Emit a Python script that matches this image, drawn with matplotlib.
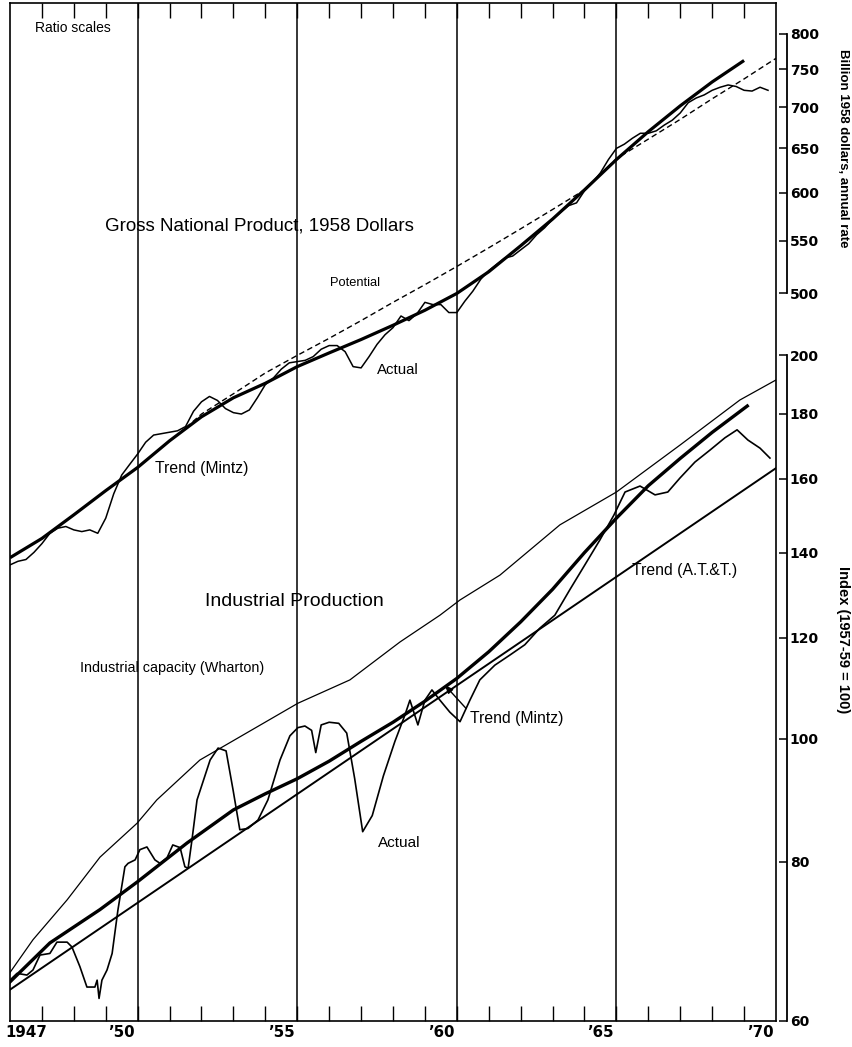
import matplotlib
matplotlib.use("Agg")
import matplotlib.pyplot as plt
from matplotlib.ticker import FixedLocator, NullFormatter, NullLocator

# ---------------- data ----------------
# GNP, billions of 1958 dollars, quarterly (1947Q1 .. 1970Q4), plotted at quarter start
gnp_actual = [
    306, 308, 309, 313,   # 1947
    318, 324, 327, 328,   # 1948
    326, 325, 326, 324,   # 1949
    333, 348, 360, 367,   # 1950
    374, 382, 387, 388,   # 1951
    389, 390, 393, 404,   # 1952
    411, 415, 412, 406,   # 1953
    403, 402, 405, 414,   # 1954
    424, 429, 436, 441,   # 1955
    442, 443, 446, 452,   # 1956
    455, 455, 450, 438,   # 1957
    437, 446, 456, 464,   # 1958
    470, 480, 476, 482,   # 1959
    492, 490, 490, 483,   # 1960
    483, 493, 502, 513,   # 1961
    521, 527, 533, 535,   # 1962
    541, 547, 556, 563,   # 1963
    572, 579, 586, 589,   # 1964
    602, 611, 622, 637,   # 1965
    650, 655, 662, 668,   # 1966
    668, 671, 678, 684,   # 1967
    693, 706, 712, 716,   # 1968
    722, 726, 729, 727,   # 1969
    722, 721, 726, 722,   # 1970
]
gnp_actual_years = [1947.0 + 0.25 * i for i in range(len(gnp_actual))]

gnp_trend_years = [1947, 1948, 1949, 1950, 1951, 1952, 1953, 1954, 1955, 1956, 1957, 1958,
                   1959, 1960, 1961, 1962, 1963, 1964, 1965, 1966, 1967, 1968, 1969, 1970]
gnp_trend = [310, 321, 335, 350, 365, 383, 400, 414, 425, 438, 449, 460,
             472, 485, 500, 520, 545, 572, 603, 637, 670, 702, 733, 762]

gnp_potential_years = [1952.3, 1953, 1954, 1955, 1956, 1957, 1958, 1959, 1960, 1961, 1962,
                       1963, 1964, 1965, 1966, 1967, 1968, 1969, 1970, 1971]
gnp_potential = [388, 402, 417, 433, 447, 461, 476, 492, 508, 525, 543,
                 562, 582, 603, 638, 661, 685, 711, 737, 765]

# Industrial production index (1957-59 = 100)
ip_actual_years = [1947.0, 1947.22, 1947.53, 1947.72, 1947.94, 1948.25, 1948.47, 1948.79, 1948.94,
                   1949.19, 1949.41, 1949.66, 1949.73, 1949.79, 1949.88, 1950.04, 1950.2, 1950.38,
                   1950.6, 1950.7, 1950.92, 1951.07, 1951.29, 1951.54, 1951.7, 1951.92, 1952.1,
                   1952.33, 1952.48, 1952.58, 1952.7, 1952.86, 1953.27, 1953.52, 1953.77, 1953.99,
                   1954.2, 1954.46, 1954.77, 1955.08, 1955.46, 1955.77, 1956.02, 1956.24, 1956.45,
                   1956.58, 1956.75, 1957.0, 1957.3, 1957.55, 1957.8, 1958.05, 1958.35, 1958.7,
                   1959.06, 1959.37, 1959.53, 1959.78, 1960.0, 1960.22, 1960.47, 1960.78, 1961.1,
                   1961.41, 1961.72, 1962.19, 1962.66, 1963.13, 1963.6, 1964.07, 1964.54, 1965.01,
                   1965.48, 1965.92, 1966.27, 1966.74, 1967.21, 1967.61, 1967.99, 1968.46, 1968.93,
                   1969.4, 1969.78, 1970.12, 1970.5, 1970.81]
ip_actual = [64.6, 65.4, 65.2, 65.8, 67.6, 67.8, 69.2, 69.2, 68.6,
             66.2, 63.8, 63.8, 64.6, 62.5, 64.6, 65.8, 67.8, 73.3,
             79.3, 79.8, 80.3, 81.8, 82.2, 80.3, 79.8, 80.6, 82.5,
             82.1, 79.3, 79.1, 83.2, 89.5, 96.2, 98.3, 97.8, 91.1,
             84.8, 85.0, 86.3, 89.5, 96.2, 100.5, 102.0, 102.3, 101.5,
             97.5, 102.5, 103.0, 102.8, 101.0, 93.0, 84.5, 87.0, 93.5,
             99.5, 104.3, 107.2, 102.5, 107.2, 109.2, 107.2, 104.9, 103.1,
             107.2, 111.2, 114.2, 116.3, 118.5, 122.1, 125.0, 130.9, 136.9,
             143.2, 149.8, 156.2, 157.9, 155.4, 156.2, 160.2, 164.9, 168.5,
             172.3, 174.8, 171.6, 169.1, 166.1]

capacity_years = [1947.0, 1947.72, 1948.79, 1949.82, 1950.98, 1951.6, 1952.95, 1956.02,
                  1957.65, 1959.22, 1960.47, 1961.1, 1962.35, 1964.23, 1966.0, 1968.0,
                  1969.87, 1971.0]
capacity = [65.5, 69.5, 74.7, 80.7, 85.8, 89.5, 96.2, 106.6,
            111.2, 119.1, 125.0, 128.5, 134.4, 147.2, 156.2, 170.1,
            184.5, 191.3]

ip_trend_years = [1947.0, 1948.25, 1949.82, 1951.0, 1952.55, 1954.0, 1955, 1956, 1957, 1958,
                  1959, 1960, 1961, 1962, 1963, 1964, 1965, 1966, 1967, 1968, 1969, 1970.1]
ip_trend = [64.4, 69.1, 73.4, 77.2, 82.8, 87.9, 90.5, 93.0, 96.0, 99.5,
            103.0, 107.0, 111.5, 117.0, 123.5, 131.0, 140.0, 149.0, 158.0, 166.0, 174.0, 182.5]

att_trend_years = [1947.0, 1971.0]
att_trend = [63.5, 163.1]

year_ticks = list(range(1948, 1971))
grid_years = [1951, 1956, 1961, 1966]
year_labels = ["1947", "\u201950", "\u201955", "\u201960", "\u201965", "\u201970"]
year_label_pos = [1947.5, 1950.5, 1955.5, 1960.5, 1965.5, 1970.5]

gnp_scale_ticks = [500, 550, 600, 650, 700, 750, 800]
idx_scale_ticks = [60, 80, 100, 120, 140, 160, 180, 200]

# ---------------- layout ----------------
W, H = 853, 1047
fig = plt.figure(figsize=(W / 100, H / 100), dpi=100)

L, R, B, T = 10, 776, 1021, 3  # pixel frame
rect = [L / W, 1 - B / H, (R - L) / W, (B - T) / H]
IDX_LIM = (60, 378.3)
GNP_FACTOR = 2.235

ax = fig.add_axes(rect)
ax.set_yscale("log")
ax.set_xlim(1947, 1971)
ax.set_ylim(*IDX_LIM)
for s in ax.spines.values():
    s.set_linewidth(1.2)
ax.yaxis.set_major_locator(NullLocator())
ax.yaxis.set_minor_locator(NullLocator())
ax.set_yticks([])

ax.xaxis.set_major_locator(FixedLocator(year_ticks))
ax.xaxis.set_major_formatter(NullFormatter())
ax.xaxis.set_minor_locator(FixedLocator(year_label_pos))
ax.set_xticklabels(year_labels, minor=True)
ax.tick_params(axis="x", which="major", direction="in", length=11, width=1.0,
               top=True, bottom=True)
ax.tick_params(axis="x", which="minor", length=0, pad=3, labelsize=10.8)
for lab in ax.get_xticklabels(minor=True):
    lab.set_fontfamily("DejaVu Sans")
    lab.set_fontweight("bold")

for gy in grid_years:
    ax.axvline(gy, color="black", lw=1.1, zorder=1)

ax2 = ax.twinx()
ax2.set_yscale("log")
ax2.set_ylim(IDX_LIM[0] * GNP_FACTOR, IDX_LIM[1] * GNP_FACTOR)
ax2.set_yticks([])
ax2.yaxis.set_minor_locator(NullLocator())
for s in ax2.spines.values():
    s.set_visible(False)

# GNP
ax2.plot(gnp_actual_years, gnp_actual, color="black", lw=1.1)
ax2.plot(gnp_trend_years, gnp_trend, color="black", lw=2.3, solid_capstyle="butt")
ax2.plot(gnp_potential_years, gnp_potential, color="black", lw=1.0, ls=(0, (4, 2.5)))

# Industrial production
ax.plot(capacity_years, capacity, color="black", lw=0.9)
ax.plot(att_trend_years, att_trend, color="black", lw=1.4)
ax.plot(ip_trend_years, ip_trend, color="black", lw=2.4)
ax.plot(ip_actual_years, ip_actual, color="black", lw=1.2)

# arrow for IP trend label
ax.annotate("", xy=(1960.56, 110.6), xytext=(1961.35, 105.2),
            arrowprops=dict(arrowstyle="-|>,head_length=0.5,head_width=0.2",
                            color="black", lw=1.0))

# ---------------- right-hand scales ----------------
SX = 787
def scale_axes(lim, ticks, bounds):
    a = fig.add_axes([(SX - 8) / W, rect[1], 8 / W, rect[3]])
    a.patch.set_visible(False)
    a.set_yscale("log")
    a.set_ylim(*lim)
    a.set_xticks([])
    for k in ("left", "top", "bottom"):
        a.spines[k].set_visible(False)
    a.spines["right"].set_bounds(*bounds)
    a.spines["right"].set_linewidth(1.3)
    a.yaxis.tick_right()
    a.yaxis.set_minor_locator(NullLocator())
    a.set_yticks(ticks)
    a.set_yticklabels([str(t) for t in ticks])
    a.tick_params(axis="y", direction="in", length=6, width=1.1, pad=2,
                  labelsize=10)
    for lab in a.get_yticklabels():
        lab.set_fontweight("bold")
    return a

scale_axes((IDX_LIM[0] * GNP_FACTOR, IDX_LIM[1] * GNP_FACTOR), gnp_scale_ticks, (500, 800))
scale_axes(IDX_LIM, idx_scale_ticks, (60, 200))

# ---------------- text ----------------
SANS = ["Liberation Sans", "DejaVu Sans"]
def ptext(x, y, s, size, **kw):
    fig.text(x / W, 1 - y / H, s, fontsize=size, family=SANS, va="center", **kw)

ptext(35, 28, "Ratio scales", 10)
ptext(105, 226, "Gross National Product, 1958 Dollars", 13.5)
ptext(330, 283, "Potential", 9.3)
ptext(377, 370, "Actual", 10.8)
ptext(155, 468, "Trend (Mintz)", 11.3)
ptext(205, 601, "Industrial Production", 14)
ptext(80, 668, "Industrial capacity (Wharton)", 10.4)
ptext(632, 570, "Trend (A.T.&T.)", 11.3)
ptext(470, 718, "Trend (Mintz)", 11.3)
ptext(378, 843, "Actual", 11)

fig.text(843 / W, 1 - 148 / H, "Billion 1958 dollars, annual rate", rotation=-90,
         fontsize=9.5, family=SANS, weight="bold", ha="center", va="center")
fig.text(843 / W, 1 - 640 / H, "Index (1957-59 = 100)", rotation=-90,
         fontsize=10.5, family=SANS, weight="bold", ha="center", va="center")

fig.savefig("out.png", dpi=100)
